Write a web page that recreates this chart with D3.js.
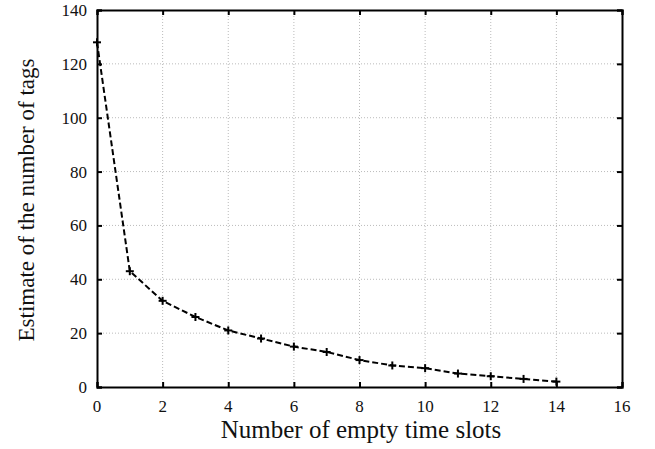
<!DOCTYPE html>
<html><head><meta charset="utf-8">
<script src="https://cdn.jsdelivr.net/npm/d3@7"></script>
<style>body{margin:0;background:#fff}svg{display:block}</style>
</head><body>
<svg id="c" width="655" height="449"></svg>
<script>
const slots = [0,1,2,3,4,5,6,7,8,9,10,11,12,13,14];
const estimates = [128,43,32,26,21,18,15,13,10,8,7,5,4,3,2];
const xTicks = [0,2,4,6,8,10,12,14,16];
const yTicks = [0,20,40,60,80,100,120,140];
const xTitle = "Number of empty time slots";
const yTitle = "Estimate of the number of tags";

const svg = d3.select("#c");
const L=97, R=622, T=10, B=387;
const x = d3.scaleLinear().domain([0,16]).range([L,R]);
const y = d3.scaleLinear().domain([0,140]).range([B,T]);
const font = "Liberation Serif";

// grid
const g = svg.append("g");
g.selectAll(".gx").data(xTicks.slice(1,-1)).join("line")
  .attr("x1",d=>x(d)).attr("x2",d=>x(d)).attr("y1",T).attr("y2",B)
  .attr("stroke","#bbb").attr("stroke-width",1).attr("stroke-dasharray","1,2");
g.selectAll(".gy").data(yTicks.slice(1,-1)).join("line")
  .attr("y1",d=>y(d)).attr("y2",d=>y(d)).attr("x1",L).attr("x2",R)
  .attr("stroke","#bbb").attr("stroke-width",1).attr("stroke-dasharray","1,2");

// axes (ticks inward, labels drawn separately)
const ax = (gen, tx, ty) => svg.append("g").attr("transform",`translate(${tx},${ty})`).call(gen);
const xb = ax(d3.axisBottom(x).tickValues(xTicks).tickSize(-5).tickFormat(""),0,B);
const xt = ax(d3.axisTop(x).tickValues(xTicks).tickSize(-5).tickFormat(""),0,T);
const yl = ax(d3.axisLeft(y).tickValues(yTicks).tickSize(-5).tickFormat(""),L,0);
const yr = ax(d3.axisRight(y).tickValues(yTicks).tickSize(-5).tickFormat(""),R,0);
[xb,xt,yl,yr].forEach(a=>{
  a.select(".domain").attr("stroke","#000").attr("stroke-width",2);
  a.selectAll(".tick line").attr("stroke","#000").attr("stroke-width",2);
});
svg.append("g").attr("class","xlab").selectAll("text").data(xTicks).join("text")
  .attr("x",d=>x(d)).attr("y",B+25).attr("text-anchor","middle")
  .attr("font-family","Liberation Serif, serif").attr("font-size",17).attr("fill","#111").text(d=>String(d));
svg.append("g").attr("class","ylab").selectAll("text").data(yTicks).join("text")
  .attr("x",L-10).attr("y",d=>y(d)+6).attr("text-anchor","end")
  .attr("font-family","Liberation Serif, serif").attr("font-size",17).attr("fill","#111").text(d=>String(d));

// line
const line = d3.line().x((d,i)=>x(slots[i])).y(d=>y(d));
svg.append("path").datum(estimates).attr("d",line)
  .attr("fill","none").attr("stroke","#000").attr("stroke-width",2).attr("stroke-dasharray","6,3");
// markers (+)
const mk = svg.append("g");
estimates.forEach((v,i)=>{
  const cx=x(slots[i]), cy=y(v);
  mk.append("line").attr("x1",cx-4).attr("x2",cx+4).attr("y1",cy).attr("y2",cy).attr("stroke","#000").attr("stroke-width",2);
  mk.append("line").attr("x1",cx).attr("x2",cx).attr("y1",cy-4).attr("y2",cy+4).attr("stroke","#000").attr("stroke-width",2);
});

// titles
svg.append("text").attr("x",361).attr("y",438).attr("text-anchor","middle")
  .style("font-family",font).style("font-size","25px").attr("fill","#111").text(xTitle);
svg.append("text").attr("transform",`translate(34,200) rotate(-90)`).attr("text-anchor","middle")
  .style("font-family",font).style("font-size","23px").attr("fill","#111").text(yTitle);
</script>
</body></html>
